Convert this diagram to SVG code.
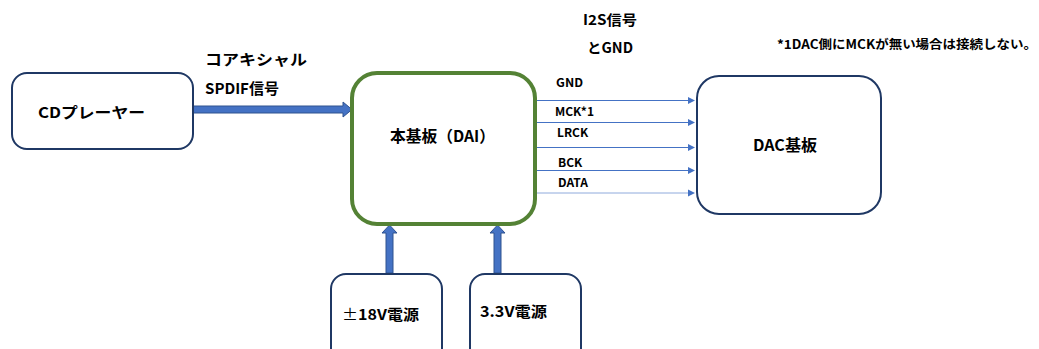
<svg xmlns="http://www.w3.org/2000/svg" width="1039" height="349" viewBox="0 0 1039 349">
<style>
text{font-family:"Noto Sans CJK JP","Noto Sans",sans-serif;font-weight:bold;fill:#000}
.box{fill:#fff;stroke:#1F3864;stroke-width:2}
.dai{fill:#fff;stroke:#548235;stroke-width:4}
.big{fill:#4472C4;stroke:#2F528F;stroke-width:1}
.sig{stroke:#4472C4;stroke-width:1;fill:none}
.head{fill:#4472C4}
.lbl{font-size:12px}
</style>
<rect width="1039" height="349" fill="#fff"/>
<g id="connectors">
  <polygon class="big" points="192,106 343,106 343,102 352,109.5 343,117 343,113 192,113"/>
  <polygon class="big" points="386,273 386,233 382,233 389.5,225 397,233 393,233 393,273"/>
  <polygon class="big" points="494,273 494,233 490,233 497.5,225 505,233 501,233 501,273"/>
  <g>
    <line class="sig" x1="537" y1="100.5" x2="689" y2="100.5"/><polygon class="head" points="688,97 695,100.5 688,104"/>
    <line class="sig" x1="537" y1="122.5" x2="689" y2="122.5"/><polygon class="head" points="688,119 695,122.5 688,126"/>
    <line class="sig" x1="537" y1="147.5" x2="689" y2="147.5"/><polygon class="head" points="688,144 695,147.5 688,151"/>
    <line class="sig" x1="537" y1="170.5" x2="689" y2="170.5"/><polygon class="head" points="688,167 695,170.5 688,174"/>
    <line class="sig" x1="537" y1="193" x2="689" y2="193" style="stroke:#8FAADC"/><polygon class="head" points="688,189.5 695,193 688,196.5"/>
  </g>
  <text class="lbl" x="556" y="86.5" textLength="27" lengthAdjust="spacingAndGlyphs">GND</text>
  <text class="lbl" x="555" y="115.5" textLength="39" lengthAdjust="spacingAndGlyphs">MCK*1</text>
  <text class="lbl" x="557" y="136.5">LRCK</text>
  <text class="lbl" x="558" y="166.5">BCK</text>
  <text class="lbl" x="558" y="187">DATA</text>
  <text font-size="15" x="205" y="65" textLength="102" lengthAdjust="spacingAndGlyphs">コアキシャル</text>
  <text font-size="15" x="205" y="94" textLength="74" lengthAdjust="spacingAndGlyphs">SPDIF信号</text>
  <text font-size="14" x="583" y="25" textLength="54" lengthAdjust="spacingAndGlyphs">I2S信号</text>
  <text font-size="14" x="587" y="53" textLength="46" lengthAdjust="spacingAndGlyphs">とGND</text>
</g>
<g id="note">
  <text font-size="12.5" x="777" y="49" textLength="260" lengthAdjust="spacingAndGlyphs">*1DAC側にMCKが無い場合は接続しない。</text>
</g>
<g id="cd">
  <rect class="box" x="12" y="73" width="181" height="76" rx="15"/>
  <text font-size="15" x="38" y="118" textLength="107" lengthAdjust="spacingAndGlyphs">CDプレーヤー</text>
</g>
<g id="dai">
  <rect class="dai" x="352" y="73" width="183" height="151" rx="25"/>
  <text font-size="16" x="390" y="142" textLength="105" lengthAdjust="spacingAndGlyphs">本基板（DAI）</text>
</g>
<g id="dac">
  <rect class="box" x="697" y="76" width="184" height="138" rx="22"/>
  <text font-size="16" x="753" y="151" textLength="64" lengthAdjust="spacingAndGlyphs">DAC基板</text>
</g>
<g id="psu18">
  <rect class="box" x="331" y="274" width="111" height="90" rx="15"/>
  <text font-size="15" x="342" y="320" textLength="77" lengthAdjust="spacingAndGlyphs"><tspan font-weight="normal">±</tspan>18V電源</text>
</g>
<g id="psu33">
  <rect class="box" x="470" y="274" width="111" height="90" rx="15"/>
  <text font-size="15" x="480" y="317" textLength="67" lengthAdjust="spacingAndGlyphs">3.3V電源</text>
</g>
</svg>
